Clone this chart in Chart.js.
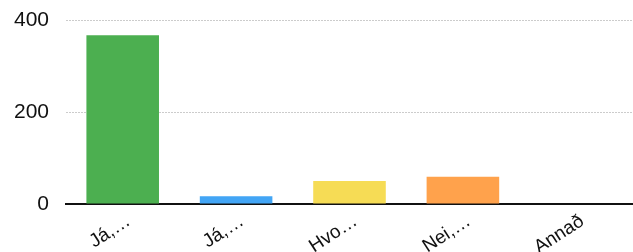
<!DOCTYPE html>
<html>
<head>
<meta charset="utf-8">
<script src="https://cdn.jsdelivr.net/npm/chart.js@4/dist/chart.umd.min.js"></script>
<style>
  html, body { margin: 0; padding: 0; background: #fff; }
  #wrap { width: 633px; height: 252px; }
</style>
</head>
<body>
<div id="wrap"><canvas id="myChart"></canvas></div>
<script>
var labels = ['Já,…', 'Já,…', 'Hvo…', 'Nei,…', 'Annað']
var values = [367, 17, 50, 59, 0]
var colors = ['#4caf50', '#42a5f5', '#f6dc55', '#ffa24c', '#9c6fd6']
var yTicks = [0, 200, 400]

var ctx = document.getElementById('myChart').getContext('2d')
var myChart = new Chart(ctx, {
  type: 'bar',
  data: {
    labels: labels,
    datasets: [{
      data: values,
      backgroundColor: colors,
      borderWidth: 0,
      categoryPercentage: 1,
      barPercentage: 0.64
    }]
  },
  options: {
    responsive: true,
    maintainAspectRatio: false,
    animation: false,
    layout: { padding: { top: 20, right: 0, left: 0, bottom: 0 } },
    plugins: { legend: { display: false }, tooltip: { enabled: false } },
    scales: {
      x: {
        afterFit: function(axis) { axis.height = 48 },
        grid: { display: false },
        border: { color: '#111', width: 2 },
        ticks: {
          color: '#111',
          padding: -2,
          labelOffset: 6,
          font: { family: 'Liberation Sans', size: 19 },
          minRotation: 33,
          maxRotation: 33,
          autoSkip: false
        }
      },
      y: {
        min: 0,
        max: 400,
        afterFit: function(axis) {
          axis.width = 66
          axis.paddingTop = 0
          axis.paddingBottom = 0
        },
        afterBuildTicks: function(axis) {
          axis.ticks = yTicks.map(function(v) { return { value: v } })
        },
        grid: { color: '#cccccc', lineWidth: 1, drawTicks: false },
        border: { display: false, dash: [2, 1] },
        ticks: {
          color: '#111',
          padding: 17,
          font: { family: 'Liberation Sans', size: 21 }
        }
      }
    }
  }
})
</script>
</body>
</html>
